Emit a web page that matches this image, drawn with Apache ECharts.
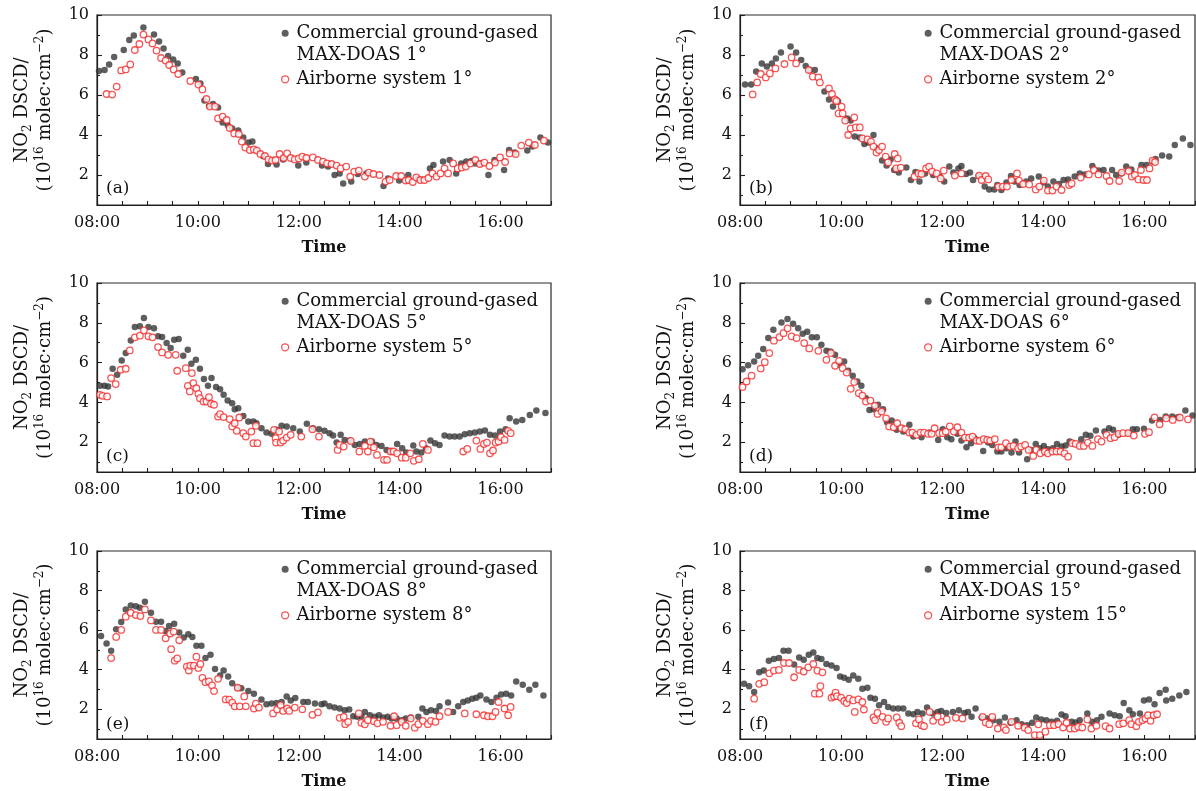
<!DOCTYPE html>
<html><head><meta charset="utf-8">
<script src="https://cdn.jsdelivr.net/npm/echarts@6/dist/echarts.min.js"></script>
<style>html,body{margin:0;padding:0;background:#fff}#c{width:1196px;height:791px}</style>
</head><body><div id="c"></div>
<script>
const panelLabels = ['(a)','(b)','(c)','(d)','(e)','(f)'];
const angles = ['1°','2°','5°','6°','8°','15°'];
const xLabelValues = [8,10,12,14,16];
const xTickValues = [8,8.5,9,9.5,10,10.5,11,11.5,12,12.5,13,13.5,14,14.5,15,15.5,16,16.5,17];
const yLabelValues = [2,4,6,8,10];
const yMinorValues = [1,3,5,7,9];

const ground1 = [[8.04,7.20],[8.15,7.25],[8.24,7.53],[8.34,7.90],[8.53,8.25],[8.64,8.75],[8.73,8.97],[8.92,9.38],[9.13,9.02],[9.23,8.67],[9.32,8.32],[9.41,7.95],[9.51,7.78],[9.60,7.58],[9.69,7.12],[9.96,6.80],[10.05,6.58],[10.13,5.72],[10.22,5.45],[10.30,5.55],[10.40,5.38],[10.49,4.62],[10.59,4.50],[10.68,4.33],[10.80,4.22],[10.90,3.88],[11.00,3.62],[11.08,3.67],[11.29,2.95],[11.39,2.55],[11.56,2.52],[11.69,2.78],[11.99,2.47],[12.15,2.62],[12.46,2.47],[12.58,2.42],[12.71,2.00],[12.81,2.08],[12.88,1.58],[13.04,1.67],[13.17,2.05],[13.34,2.08],[13.68,1.45],[13.77,1.83],[13.99,1.72],[14.17,2.00],[14.36,1.83],[14.60,2.33],[14.67,2.50],[14.86,2.67],[14.99,2.75],[15.12,2.08],[15.22,2.58],[15.32,2.67],[15.42,2.70],[15.50,2.58],[15.62,2.58],[15.76,2.00],[15.88,2.75],[16.07,2.25],[16.17,3.25],[16.28,3.12],[16.53,3.22],[16.63,3.42],[16.79,3.88],[16.94,3.62]];
const air1 = [[8.19,6.05],[8.30,6.02],[8.39,6.42],[8.48,7.23],[8.57,7.28],[8.66,7.53],[8.75,8.25],[8.84,8.55],[8.92,9.02],[9.02,8.78],[9.10,8.58],[9.18,8.22],[9.27,7.85],[9.36,7.72],[9.43,7.50],[9.52,7.28],[9.61,7.05],[9.85,6.70],[10.01,6.52],[10.09,6.28],[10.17,5.80],[10.24,5.42],[10.34,5.42],[10.40,4.83],[10.49,4.92],[10.57,4.75],[10.63,4.35],[10.72,4.08],[10.81,4.05],[10.87,3.67],[10.94,3.37],[11.03,3.25],[11.11,3.28],[11.17,3.22],[11.24,3.05],[11.33,2.95],[11.40,2.78],[11.47,2.72],[11.54,2.75],[11.62,3.05],[11.70,2.85],[11.77,3.08],[11.84,2.85],[11.92,2.78],[12.00,2.83],[12.07,2.92],[12.15,2.85],[12.28,2.88],[12.38,2.75],[12.48,2.67],[12.56,2.58],[12.65,2.55],[12.75,2.47],[12.83,2.33],[12.94,2.42],[13.02,1.92],[13.10,2.17],[13.19,2.22],[13.31,1.92],[13.39,2.12],[13.48,2.05],[13.60,2.00],[13.72,1.67],[13.80,1.75],[13.93,1.95],[14.03,1.95],[14.12,1.72],[14.18,1.75],[14.26,1.65],[14.33,1.88],[14.41,1.75],[14.49,1.75],[14.57,1.85],[14.65,2.08],[14.73,1.92],[14.81,2.08],[14.89,2.33],[14.96,2.08],[15.06,2.58],[15.15,2.33],[15.23,2.37],[15.31,2.42],[15.40,2.58],[15.50,2.75],[15.59,2.55],[15.68,2.62],[15.78,2.45],[15.89,2.62],[15.99,2.88],[16.09,2.65],[16.18,3.08],[16.30,3.05],[16.41,3.47],[16.56,3.62],[16.68,3.50],[16.86,3.72]];

const ground2 = [[8.10,6.53],[8.22,6.53],[8.32,7.17],[8.43,7.58],[8.53,7.42],[8.63,7.58],[8.71,7.83],[8.81,8.13],[9.00,8.42],[9.11,8.12],[9.21,7.75],[9.30,7.45],[9.38,7.25],[9.48,7.25],[9.67,6.17],[9.76,5.78],[9.84,5.42],[9.94,5.67],[10.12,4.83],[10.19,4.72],[10.27,3.92],[10.37,3.88],[10.46,3.55],[10.54,3.62],[10.64,4.00],[10.71,3.33],[10.81,2.72],[10.90,2.47],[10.98,2.78],[11.05,2.25],[11.14,2.12],[11.29,2.38],[11.38,1.75],[11.47,2.15],[11.55,1.67],[11.66,2.08],[11.82,2.00],[11.95,1.92],[12.04,1.67],[12.14,2.42],[12.22,2.12],[12.32,2.33],[12.38,2.45],[12.47,2.05],[12.55,2.12],[12.61,1.75],[12.72,1.95],[12.84,1.42],[12.93,1.28],[13.03,1.28],[13.09,1.50],[13.17,1.25],[13.27,1.62],[13.36,1.95],[13.43,1.67],[13.53,1.50],[13.66,1.67],[13.76,1.83],[13.91,1.92],[14.00,1.62],[14.09,1.42],[14.20,1.67],[14.31,1.55],[14.40,1.75],[14.49,1.78],[14.62,1.92],[14.72,2.08],[14.82,2.03],[14.97,2.45],[15.09,2.22],[15.19,2.25],[15.36,2.25],[15.44,2.00],[15.54,2.08],[15.64,2.42],[15.74,2.28],[15.94,2.50],[16.04,2.50],[16.16,2.67],[16.22,2.80],[16.35,2.97],[16.49,2.92],[16.60,3.50],[16.76,3.83],[16.91,3.50]];
const air2 = [[8.25,6.03],[8.34,6.63],[8.41,7.05],[8.51,6.88],[8.59,7.08],[8.70,7.33],[8.88,7.55],[9.02,7.88],[9.11,7.58],[9.36,7.25],[9.44,6.92],[9.55,6.88],[9.58,6.63],[9.76,6.33],[9.82,6.05],[9.88,5.78],[9.91,5.70],[9.95,5.08],[10.01,5.42],[10.03,5.08],[10.08,4.72],[10.14,4.00],[10.19,4.33],[10.26,4.88],[10.29,4.38],[10.37,4.38],[10.42,3.83],[10.52,3.78],[10.59,3.67],[10.64,3.42],[10.70,3.12],[10.75,3.25],[10.81,3.42],[10.88,2.92],[10.93,2.63],[11.06,3.05],[11.09,2.33],[11.12,2.83],[11.18,2.37],[11.45,1.92],[11.53,2.08],[11.59,2.05],[11.68,2.33],[11.74,2.42],[11.80,2.17],[11.89,2.08],[11.97,1.83],[12.03,2.22],[12.25,1.97],[12.38,2.08],[12.73,1.97],[12.78,1.75],[12.86,1.95],[12.91,1.78],[13.11,1.42],[13.20,1.42],[13.28,1.42],[13.37,1.75],[13.48,2.08],[13.52,1.72],[13.60,1.55],[13.72,1.53],[13.85,1.28],[13.92,1.42],[14.01,1.72],[14.09,1.22],[14.18,1.22],[14.26,1.42],[14.36,1.25],[14.51,1.50],[14.56,1.58],[14.74,1.87],[14.90,2.03],[15.00,2.25],[15.09,2.03],[15.25,1.95],[15.31,1.70],[15.50,1.70],[15.55,2.12],[15.69,2.20],[15.75,1.92],[15.81,2.00],[15.88,1.78],[15.93,2.25],[15.98,1.75],[16.05,1.75],[16.10,2.33],[16.16,2.72],[16.21,2.65]];

const ground5 = [[8.06,4.83],[8.15,4.83],[8.22,4.80],[8.31,5.69],[8.40,5.39],[8.49,6.11],[8.57,6.48],[8.67,7.11],[8.75,7.79],[8.85,7.82],[8.93,8.24],[9.02,7.79],[9.13,7.73],[9.21,7.32],[9.29,7.28],[9.38,6.98],[9.46,6.73],[9.53,7.15],[9.62,7.18],[9.71,6.34],[9.80,6.64],[9.87,5.94],[9.96,6.14],[10.04,5.69],[10.12,5.17],[10.20,4.83],[10.27,5.22],[10.36,4.77],[10.44,4.66],[10.51,4.38],[10.59,4.09],[10.68,3.96],[10.73,3.66],[10.80,3.71],[10.90,3.32],[11.00,3.04],[11.10,3.04],[11.16,2.95],[11.26,2.70],[11.36,2.48],[11.46,2.42],[11.56,2.62],[11.66,2.82],[11.76,2.79],[11.89,2.70],[12.02,2.53],[12.16,2.92],[12.28,2.70],[12.40,2.65],[12.51,2.57],[12.61,2.45],[12.68,2.33],[12.75,1.98],[12.83,2.37],[12.91,2.11],[13.01,2.08],[13.11,1.86],[13.21,1.91],[13.31,2.03],[13.45,2.03],[13.54,1.86],[13.64,1.81],[13.74,1.61],[13.82,1.53],[13.95,1.91],[14.05,1.69],[14.13,1.48],[14.27,1.83],[14.33,1.53],[14.43,1.48],[14.52,1.69],[14.61,2.08],[14.70,1.95],[14.79,1.86],[14.89,2.33],[14.99,2.28],[15.09,2.28],[15.19,2.28],[15.29,2.40],[15.39,2.45],[15.49,2.48],[15.59,2.53],[15.69,2.58],[15.79,2.37],[15.89,2.33],[15.99,2.53],[16.10,2.65],[16.18,3.20],[16.31,3.04],[16.43,3.12],[16.58,3.37],[16.71,3.59],[16.89,3.46]];
const air5 = [[8.06,4.38],[8.11,4.33],[8.20,4.30],[8.28,5.22],[8.37,4.92],[8.47,5.64],[8.57,5.69],[8.65,6.61],[8.75,7.27],[8.85,7.35],[8.93,7.62],[9.02,7.32],[9.10,7.27],[9.21,6.78],[9.29,6.51],[9.41,6.39],[9.56,6.39],[9.59,5.59],[9.76,5.72],[9.80,4.83],[9.84,4.55],[9.88,5.47],[9.91,4.97],[9.97,4.71],[10.01,4.43],[10.04,4.21],[10.11,4.04],[10.17,4.04],[10.22,4.26],[10.26,3.93],[10.32,3.88],[10.40,3.29],[10.44,3.41],[10.51,3.26],[10.63,3.16],[10.68,2.79],[10.73,2.95],[10.77,2.57],[10.82,3.24],[10.90,2.45],[10.95,2.28],[11.06,2.53],[11.10,1.95],[11.15,2.82],[11.18,1.95],[11.51,2.62],[11.54,2.20],[11.55,1.98],[11.61,2.53],[11.64,1.98],[11.69,2.08],[11.76,2.23],[11.84,2.37],[12.05,2.28],[12.27,2.65],[12.40,2.28],[12.77,1.61],[12.81,1.86],[12.89,1.78],[13.03,2.06],[13.20,1.53],[13.31,1.81],[13.37,1.53],[13.42,2.03],[13.49,1.74],[13.55,1.36],[13.69,1.11],[13.75,1.11],[13.82,1.53],[13.88,1.53],[13.95,1.44],[14.04,1.22],[14.12,1.22],[14.21,1.44],[14.28,1.06],[14.38,1.14],[14.46,1.91],[14.56,1.61],[15.26,1.53],[15.34,1.66],[15.52,2.08],[15.60,1.66],[15.67,1.91],[15.73,1.98],[15.79,1.44],[15.85,1.58],[15.90,1.98],[15.96,2.03],[16.01,2.25],[16.08,2.11],[16.15,2.57],[16.20,2.45]];

const ground6 = [[8.05,5.67],[8.16,5.86],[8.28,6.06],[8.36,6.34],[8.46,6.68],[8.56,7.23],[8.66,7.65],[8.82,8.02],[8.94,8.19],[9.05,7.95],[9.15,7.73],[9.24,7.45],[9.33,7.55],[9.42,7.27],[9.52,7.27],[9.61,6.90],[9.71,6.59],[9.79,6.56],[9.88,6.39],[9.96,5.89],[10.06,6.06],[10.14,5.59],[10.23,5.34],[10.32,5.05],[10.40,4.83],[10.49,4.21],[10.56,3.62],[10.64,3.66],[10.73,3.88],[10.83,3.66],[10.91,3.00],[11.00,3.09],[11.10,2.62],[11.23,2.53],[11.35,2.87],[11.43,2.28],[11.59,2.25],[11.75,2.48],[11.92,2.11],[12.01,2.65],[12.10,2.25],[12.18,2.15],[12.30,2.42],[12.38,2.08],[12.48,1.74],[12.57,1.95],[12.64,2.20],[12.81,1.56],[12.91,1.98],[12.99,1.86],[13.09,1.53],[13.17,1.53],[13.27,1.69],[13.37,1.48],[13.45,2.03],[13.52,1.48],[13.68,1.14],[13.76,1.61],[13.85,1.91],[13.93,1.69],[14.01,1.81],[14.09,1.64],[14.19,1.69],[14.27,1.91],[14.36,1.78],[14.44,1.83],[14.52,2.03],[14.75,2.15],[14.84,2.37],[14.93,2.32],[15.04,2.58],[15.21,2.53],[15.30,2.70],[15.38,2.62],[15.48,2.37],[15.68,2.45],[15.77,2.65],[15.85,2.65],[15.99,2.67],[16.15,3.09],[16.31,3.12],[16.42,3.29],[16.55,3.29],[16.66,3.25],[16.81,3.59],[16.95,3.34]];
const air6 = [[8.05,4.77],[8.13,5.05],[8.23,5.34],[8.41,5.70],[8.49,6.02],[8.58,6.48],[8.67,7.10],[8.78,7.28],[8.86,7.48],[8.94,7.72],[9.02,7.32],[9.12,7.23],[9.27,6.98],[9.37,6.71],[9.55,6.59],[9.71,6.14],[9.80,6.48],[9.88,5.84],[9.96,6.09],[10.03,5.72],[10.11,5.50],[10.19,4.68],[10.26,5.02],[10.35,4.46],[10.42,4.34],[10.49,4.04],[10.58,4.09],[10.67,3.83],[10.72,3.42],[10.80,3.54],[10.89,3.20],[10.95,2.79],[11.04,2.75],[11.11,2.95],[11.19,2.70],[11.27,2.65],[11.35,2.48],[11.41,2.48],[11.49,2.37],[11.57,2.48],[11.64,2.48],[11.72,2.42],[11.79,2.42],[11.85,2.70],[11.94,2.45],[12.01,2.45],[12.07,2.53],[12.15,2.79],[12.23,2.53],[12.30,2.75],[12.38,2.48],[12.45,2.23],[12.53,2.23],[12.60,2.28],[12.68,2.08],[12.74,2.06],[12.82,2.15],[12.89,2.11],[12.95,2.08],[13.04,2.15],[13.11,1.74],[13.17,1.74],[13.26,1.95],[13.34,1.78],[13.41,1.81],[13.50,1.69],[13.56,1.78],[13.64,1.86],[13.71,1.61],[13.80,1.31],[13.86,1.61],[13.94,1.44],[14.03,1.53],[14.09,1.44],[14.18,1.53],[14.26,1.53],[14.34,1.53],[14.42,1.44],[14.49,1.27],[14.57,1.95],[14.64,1.91],[14.72,1.81],[14.80,1.81],[14.88,1.98],[14.97,1.81],[15.08,2.15],[15.15,2.03],[15.25,2.37],[15.33,2.20],[15.41,2.25],[15.49,2.42],[15.58,2.45],[15.68,2.45],[15.79,2.33],[16.01,2.42],[16.09,2.50],[16.20,3.25],[16.30,2.90],[16.43,3.20],[16.56,3.12],[16.70,3.24],[16.86,3.15]];

const ground8 = [[8.08,5.71],[8.19,5.33],[8.28,4.96],[8.38,6.04],[8.48,6.41],[8.57,7.05],[8.67,7.25],[8.77,7.21],[8.85,7.13],[8.95,7.43],[9.07,6.88],[9.17,6.43],[9.27,6.43],[9.36,5.96],[9.43,6.21],[9.53,6.33],[9.63,5.88],[9.72,5.63],[9.81,5.79],[9.89,5.66],[9.97,5.21],[10.07,5.21],[10.15,4.59],[10.25,4.76],[10.34,4.04],[10.44,3.71],[10.51,3.96],[10.60,3.66],[10.68,3.32],[10.78,3.09],[10.86,3.07],[11.00,2.92],[11.11,2.79],[11.26,2.49],[11.36,2.25],[11.46,2.29],[11.56,2.32],[11.66,2.37],[11.76,2.65],[11.84,2.45],[11.93,2.57],[12.09,2.37],[12.18,2.37],[12.32,2.29],[12.45,2.25],[12.51,2.29],[12.61,2.15],[12.71,2.09],[12.81,2.04],[12.91,1.95],[13.00,1.99],[13.08,1.65],[13.16,1.62],[13.24,1.65],[13.31,1.87],[13.41,1.70],[13.51,1.62],[13.59,1.70],[13.67,1.59],[13.76,1.62],[13.84,1.54],[13.94,1.54],[14.04,1.45],[14.12,1.54],[14.22,1.59],[14.37,1.62],[14.45,2.04],[14.53,1.87],[14.62,1.95],[14.72,1.92],[14.79,2.15],[14.96,2.34],[15.06,1.87],[15.16,2.15],[15.26,2.37],[15.35,2.45],[15.44,2.54],[15.52,2.59],[15.60,2.70],[15.72,2.49],[15.82,2.37],[15.92,2.59],[16.01,2.75],[16.11,2.79],[16.21,2.70],[16.31,3.41],[16.44,3.24],[16.57,2.99],[16.69,3.24],[16.85,2.70]];
const air8 = [[8.28,4.59],[8.38,5.66],[8.48,6.01],[8.57,6.68],[8.67,6.88],[8.77,6.76],[8.86,6.71],[8.95,7.05],[9.07,6.49],[9.17,6.01],[9.27,6.01],[9.36,5.59],[9.45,5.83],[9.47,5.04],[9.52,5.93],[9.54,4.46],[9.59,4.57],[9.63,5.49],[9.78,4.16],[9.82,3.96],[9.85,4.21],[9.92,4.21],[9.97,4.66],[10.01,4.09],[10.05,4.29],[10.09,3.59],[10.15,3.37],[10.22,3.41],[10.28,3.21],[10.32,2.92],[10.40,3.54],[10.55,2.50],[10.62,2.49],[10.68,2.34],[10.73,2.15],[10.79,3.09],[10.83,2.15],[10.92,2.65],[10.95,2.15],[11.11,2.04],[11.15,2.29],[11.21,2.09],[11.49,1.79],[11.57,1.99],[11.64,2.21],[11.69,1.92],[11.77,2.04],[11.81,1.92],[11.92,2.09],[12.07,2.00],[12.27,1.72],[12.38,1.85],[12.81,1.57],[12.89,1.62],[12.92,1.25],[12.98,1.37],[13.19,1.79],[13.24,1.32],[13.31,1.24],[13.37,1.45],[13.49,1.40],[13.56,1.29],[13.67,1.37],[13.82,1.17],[13.89,1.65],[13.94,1.20],[14.04,1.37],[14.12,1.17],[14.22,1.54],[14.30,1.07],[14.37,1.25],[14.46,1.42],[14.56,1.25],[14.62,1.42],[14.71,1.37],[14.79,1.65],[14.96,1.87],[15.29,1.79],[15.52,1.75],[15.67,1.70],[15.75,1.65],[15.84,1.65],[15.90,1.87],[15.96,2.37],[16.08,2.04],[16.15,1.70],[16.20,2.12]];

const ground15 = [[8.08,3.29],[8.18,3.16],[8.28,2.87],[8.38,3.87],[8.47,3.96],[8.57,4.46],[8.67,4.54],[8.77,4.59],[8.86,4.96],[8.96,4.96],[9.07,4.26],[9.17,4.62],[9.26,4.51],[9.36,4.76],[9.45,4.87],[9.53,4.59],[9.61,4.54],[9.71,4.29],[9.81,4.21],[9.91,4.09],[9.98,3.66],[10.06,3.59],[10.15,3.49],[10.24,3.71],[10.34,3.54],[10.42,3.04],[10.52,3.09],[10.58,2.59],[10.67,2.54],[10.75,2.20],[10.85,2.37],[10.93,2.12],[11.03,2.04],[11.13,2.04],[11.23,2.04],[11.33,1.79],[11.43,1.75],[11.51,1.87],[11.61,1.79],[11.70,2.09],[11.81,1.79],[11.91,1.87],[11.98,1.92],[12.08,1.82],[12.21,1.87],[12.33,1.95],[12.44,1.82],[12.51,1.87],[12.58,1.62],[12.66,2.04],[12.78,1.59],[12.89,1.54],[13.01,1.45],[13.13,1.37],[13.24,1.59],[13.35,1.32],[13.47,1.45],[13.57,1.25],[13.68,1.20],[13.78,1.32],[13.86,1.59],[13.96,1.49],[14.06,1.45],[14.16,1.37],[14.27,1.42],[14.36,1.74],[14.44,1.65],[14.56,1.37],[14.64,1.34],[14.72,1.45],[14.87,1.79],[14.96,1.37],[15.06,1.45],[15.15,1.62],[15.31,1.79],[15.41,1.70],[15.51,1.65],[15.59,2.32],[15.70,1.95],[15.77,1.75],[15.91,1.79],[15.99,2.45],[16.09,2.49],[16.20,2.25],[16.30,2.82],[16.42,2.99],[16.43,2.45],[16.55,2.54],[16.69,2.70],[16.83,2.87]];
const air15 = [[8.28,2.54],[8.38,3.29],[8.48,3.37],[8.58,3.82],[8.67,3.96],[8.77,3.99],[8.87,4.34],[8.97,4.34],[9.07,3.62],[9.17,3.99],[9.26,3.91],[9.35,4.12],[9.45,4.29],[9.48,2.79],[9.53,3.96],[9.57,2.79],[9.59,3.17],[9.63,3.87],[9.81,2.59],[9.86,2.65],[9.89,2.84],[9.92,2.67],[10.00,2.59],[10.06,2.42],[10.11,2.32],[10.16,2.54],[10.24,2.45],[10.27,1.87],[10.34,2.50],[10.42,2.37],[10.45,1.99],[10.64,1.59],[10.67,1.45],[10.72,1.82],[10.82,1.62],[10.89,1.37],[10.93,1.54],[11.10,1.59],[11.15,1.32],[11.19,1.15],[11.48,1.29],[11.54,1.49],[11.59,1.20],[11.64,1.15],[11.75,1.87],[11.82,1.42],[11.91,1.63],[11.99,1.37],[12.09,1.49],[12.27,1.57],[12.40,1.54],[12.80,1.62],[12.86,1.34],[12.93,1.25],[12.99,1.62],[13.10,1.03],[13.22,1.08],[13.26,0.95],[13.37,1.37],[13.50,1.17],[13.63,1.07],[13.70,0.95],[13.83,0.70],[13.90,1.24],[13.93,0.70],[14.04,0.87],[14.13,1.20],[14.21,1.20],[14.30,1.25],[14.39,1.08],[14.46,1.32],[14.53,1.03],[14.62,1.03],[14.69,1.12],[14.77,1.08],[14.87,1.49],[14.95,1.03],[15.05,1.17],[15.23,1.15],[15.31,1.03],[15.50,1.25],[15.58,1.29],[15.70,1.45],[15.74,1.25],[15.84,1.15],[15.89,1.37],[15.96,1.45],[16.02,1.54],[16.07,1.70],[16.12,1.42],[16.18,1.70],[16.25,1.75]];

const groundData = [ground1, ground2, ground5, ground6, ground8, ground15];
const airData = [air1, air2, air5, air6, air8, air15];

const FONT = 'DejaVu Serif';
const TXT = '#111';
const AX = '#1e1e1e';
const GRAY = '#363636';
const RED = '#f22a2a';
const colLeft = [97, 740];
const colWidth = [454, 455];
const rowTop = [15, 283, 551];
const rowHeight = [190, 189, 189];

const grids = [], xAxes = [], yAxes = [], series = [], legends = [], titles = [];
for (let i = 0; i < 6; i++) {
  const c = i % 2, r = Math.floor(i / 2);
  const L = colLeft[c], T = rowTop[r];
  grids.push({left: L, top: T, width: colWidth[c], height: rowHeight[r], show: true, borderColor: '#2a2a2a', borderWidth: 1.2, backgroundColor: 'transparent', containLabel: false});
  xAxes.push({
    type: 'value', gridIndex: i, min: 8, max: 17, interval: 1,
    axisLine: {show: true, onZero: false, lineStyle: {color: AX, width: 1.2}},
    axisTick: {show: true, inside: true, length: 4, customValues: xTickValues, lineStyle: {color: AX, width: 1.1}},
    axisLabel: {customValues: xLabelValues, formatter: v => (v < 10 ? '0' : '') + v + ':00', fontFamily: FONT, fontSize: 16, color: TXT, margin: 10},
    splitLine: {show: false},
    name: 'Time', nameLocation: 'middle', nameGap: 35,
    nameTextStyle: {fontFamily: FONT, fontSize: 16, fontWeight: 'bold', color: TXT}
  });
  yAxes.push({
    type: 'value', gridIndex: i, min: 0.5, max: 10, position: 'left',
    axisLine: {show: true, onZero: false, lineStyle: {color: AX, width: 1.2}},
    axisTick: {show: true, inside: true, length: 5, customValues: yLabelValues, lineStyle: {color: AX, width: 1.1}},
    axisLabel: {customValues: yLabelValues, fontFamily: FONT, fontSize: 16, color: TXT, margin: 8},
    splitLine: {show: false},
    name: '{n|NO}{s|2}{n| DSCD/}\n{n|(10}{p|16}{n| molec·cm}{p|−2}{n|)}',
    nameLocation: 'middle', nameRotate: 90, nameGap: 40,
    nameTextStyle: {fontFamily: FONT, fontSize: 18, color: TXT, lineHeight: 23,
      rich: {
        n: {fontFamily: FONT, fontSize: 18, color: TXT, lineHeight: 23},
        s: {fontFamily: FONT, fontSize: 12, color: TXT, lineHeight: 12, verticalAlign: 'bottom'},
        p: {fontFamily: FONT, fontSize: 12, color: TXT, lineHeight: 12, verticalAlign: 'top'}
      }}
  });
  yAxes.push({
    type: 'value', gridIndex: i, min: 0.5, max: 10, position: 'left', offset: 0,
    axisLine: {show: false}, axisLabel: {show: false}, splitLine: {show: false},
    axisTick: {show: true, inside: true, length: 3, customValues: yMinorValues, lineStyle: {color: AX, width: 1.1}}
  });
  const nG = 'Commercial ground-gased\nMAX-DOAS ' + angles[i];
  const nA = 'Airborne system ' + angles[i];
  series.push({
    type: 'scatter', name: nG, xAxisIndex: i, yAxisIndex: i * 2, data: groundData[i],
    symbol: 'circle', symbolSize: 6.5, itemStyle: {color: GRAY}, z: 2
  });
  series.push({
    type: 'scatter', name: nA, xAxisIndex: i, yAxisIndex: i * 2, data: airData[i],
    symbol: 'circle', symbolSize: 6.5, itemStyle: {color: '#fff', borderColor: RED, borderWidth: 1.3}, z: 3
  });
  legends.push({
    orient: 'vertical', left: L + 184, top: T + 18.3 - 33, padding: 0, itemGap: 2,
    itemWidth: 12.6, itemHeight: 7, selectedMode: false,
    formatter: name => (name.indexOf('\n') >= 0 ? '\n' + name : name),
    textStyle: {fontFamily: FONT, fontSize: 18, color: TXT, lineHeight: 22},
    data: [
      {name: nG, itemStyle: {borderWidth: 0}},
      {name: nA, itemStyle: {borderWidth: 1.3, borderColor: RED, color: '#fff'}}
    ]
  });
  titles.push({text: panelLabels[i], left: L + 9, top: T + 165, padding: 0,
    textStyle: {fontFamily: FONT, fontSize: 17, fontWeight: 'normal', color: TXT}});
}

const chart = echarts.init(document.getElementById('c'), null, {renderer: 'canvas'});
chart.setOption({
  animation: false, backgroundColor: '#fff',
  title: titles, legend: legends, grid: grids, xAxis: xAxes, yAxis: yAxes, series: series
});
</script></body></html>
